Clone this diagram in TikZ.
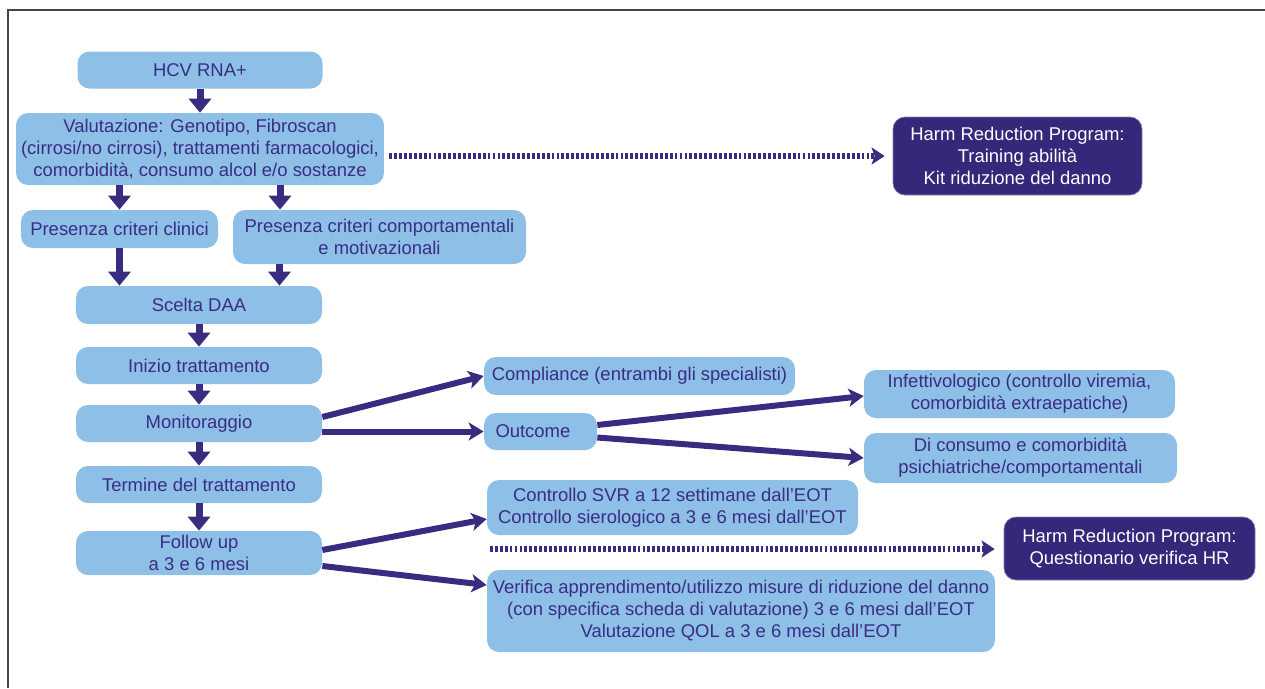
\documentclass[tikz,border=0pt]{standalone}
\usepackage{fontspec}
\setmainfont{Liberation Sans}
\usepackage{tikz}
\usepackage{xcolor}
\definecolor{hcvbox}{RGB}{141, 191, 231}
\definecolor{hcvtext}{RGB}{58, 45, 132}
\definecolor{hcvarrow}{RGB}{57, 43, 128}
\definecolor{hcvdark}{RGB}{53, 39, 122}
\definecolor{hcvframe}{RGB}{70, 70, 70}
\usetikzlibrary{positioning,arrows.meta,calc}

\tikzset{
    box/.style={rectangle, rounded corners=0.24cm, fill=hcvbox, text=hcvtext, align=center,
        inner xsep=0.1cm, inner ysep=0.05cm, font=\fontsize{10.5}{12.5}\selectfont},
    hrbox/.style={box, fill=hcvdark, text=white, draw=hcvdark!60, line width=0.4pt},
    flow/.style={-{Triangle[width=0.44cm, length=0.28cm]}, line width=0.14cm, hcvarrow},
    branch/.style={-{Stealth[width=0.36cm, length=0.3cm, inset=0.08cm]}, line width=0.12cm, hcvarrow},
    dotflow/.style={-{Stealth[width=0.34cm, length=0.26cm, inset=0.06cm]}, line width=0.13cm, hcvarrow,
        dash pattern=on 1.6pt off 1.2pt}
}

\begin{document}
\begin{tikzpicture}
    \useasboundingbox (0, 0) rectangle (25.3, -13.76);
    % frame
    \draw[hcvframe, line width=0.05cm] (0.16, -13.76) -- (0.16, -0.2) -- (25.3, -0.2);

    % main column
    \node[box, minimum width=4.9cm, minimum height=0.74cm] (hcv) at (4.0, -1.4) {HCV RNA+};
    \node[box, minimum width=7.32cm, minimum height=1.44cm] (val) at (4.0, -2.98) {Valutazione: Genotipo, Fibroscan\\(cirrosi/no cirrosi), trattamenti farmacologici,\\comorbidità, consumo alcol e/o sostanze};
    \node[box, minimum width=3.94cm, minimum height=0.76cm] (clin) at (2.39, -4.58) {Presenza criteri clinici};
    \node[box, minimum width=5.86cm, minimum height=1.08cm] (comp) at (7.59, -4.74) {Presenza criteri comportamentali\\e motivazionali};
    \node[box, minimum width=4.92cm, minimum height=0.76cm] (daa) at (3.98, -6.1) {Scelta DAA};
    \node[box, minimum width=4.92cm, minimum height=0.74cm] (inizio) at (3.98, -7.31) {Inizio trattamento};
    \node[box, minimum width=4.92cm, minimum height=0.74cm] (monit) at (3.98, -8.47) {Monitoraggio};
    \node[box, minimum width=4.92cm, minimum height=0.74cm] (termine) at (3.98, -9.69) {Termine del trattamento};
    \node[box, minimum width=4.92cm, minimum height=0.88cm] (follow) at (3.98, -11.06) {Follow up\\a 3 e 6 mesi};

    % branches
    \node[box, minimum width=6.22cm, minimum height=0.76cm] (compl) at (12.79, -7.52) {Compliance (entrambi gli specialisti)};
    \node[box, align=left, text width=1.8cm, inner xsep=0.23cm, minimum height=0.74cm] (outc) at (10.81, -8.63) {Outcome};
    \node[box, minimum width=6.22cm, minimum height=0.96cm] (inf) at (20.39, -7.88) {Infettivologico (controllo viremia,\\comorbidità extraepatiche)};
    \node[box, minimum width=6.26cm, minimum height=1.0cm] (cons) at (20.41, -9.16) {Di consumo e comorbidità\\psichiatriche/comportamentali};
    \node[box, minimum width=7.42cm, minimum height=1.1cm] (svr) at (13.45, -10.15) {Controllo SVR a 12 settimane dall’EOT\\Controllo sierologico a 3 e 6 mesi dall’EOT};
    \node[box, minimum width=10.16cm, minimum height=1.64cm] (ver) at (14.82, -12.22) {Verifica apprendimento/utilizzo misure di riduzione del danno\\(con specifica scheda di valutazione) 3 e 6 mesi dall’EOT\\Valutazione QOL a 3 e 6 mesi dall’EOT};

    % harm reduction
    \node[hrbox, minimum width=4.98cm, minimum height=1.56cm] (hr1) at (20.35, -3.12) {Harm Reduction Program:\\Training abilità\\Kit riduzione del danno};
    \node[hrbox, minimum width=5.02cm, minimum height=1.26cm] (hr2) at (22.59, -10.97) {Harm Reduction Program:\\Questionario verifica HR};
    \coordinate (hrstart) at (9.8, -10.98);

    % vertical arrows
    \draw[flow] (hcv) -- (val);
    \draw[flow] (val.south -| clin.north) -- (clin.north);
    \draw[flow] ([xshift=1.6cm]val.south) -- ([xshift=1.6cm]val.south |- comp.north);
    \draw[flow] (clin.south) -- (clin.south |- daa.north);
    \draw[flow] ([xshift=-2cm]comp.south) -- ([xshift=-2cm]comp.south |- daa.north);
    \draw[flow] (daa) -- (inizio);
    \draw[flow] (inizio) -- (monit);
    \draw[flow] (monit) -- (termine);
    \draw[flow] (termine) -- (follow);

    % diagonal arrows
    \draw[branch] ([yshift=0.13cm]monit.east) -- (compl.west);
    \draw[branch] (monit.east |- outc.west) -- (outc.west);
    \draw[branch] ([yshift=0.13cm]outc.east) -- ([yshift=-0.04cm]inf.west);
    \draw[branch] ([yshift=-0.12cm]outc.east) -- (cons.west);
    \draw[branch] ([yshift=0.06cm]follow.east) -- ([yshift=-0.23cm]svr.west);
    \draw[branch] ([yshift=-0.26cm]follow.east) -- ([yshift=0.52cm]ver.west);

    % dotted arrows
    \draw[dotflow] ([xshift=0.1cm]val.east |- hr1.west) -- ([xshift=-0.16cm]hr1.west);
    \draw[dotflow] (hrstart) -- ([xshift=-0.18cm]hr2.west |- hrstart);
\end{tikzpicture}
\end{document}
